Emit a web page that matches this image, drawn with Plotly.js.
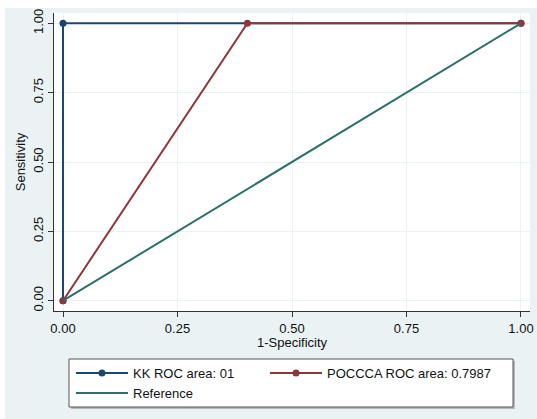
<!DOCTYPE html>
<html>
<head>
<meta charset="utf-8">
<script src="https://cdn.plot.ly/plotly-3.0.1.min.js"></script>
<style>
  html, body { margin: 0; padding: 0; background: #ffffff; }
  #chart { position: absolute; left: 5px; top: 8px; width: 532px; height: 411px; }
</style>
</head>
<body>
<div id="chart"></div>
<script>
// ---- data ----
const kkFpr = [0, 0, 1];
const kkTpr = [0, 1, 1];
const pocccaFpr = [0, 0.4026, 1];
const pocccaTpr = [0, 1, 1];
const refFpr = [0, 1];
const refTpr = [0, 1];
const tickVals = [0, 0.25, 0.5, 0.75, 1];
const tickLabels = ['0.00', '0.25', '0.50', '0.75', '1.00'];
const seriesNames = ['KK ROC area: 01', 'POCCCA ROC area: 0.7987', 'Reference'];
const xTitle = '1-Specificity';
const yTitle = 'Sensitivity';

const FONT = 'Arial, "Liberation Sans", Helvetica, sans-serif';
const navy = '#1a476f';
const maroon = '#90353b';
const teal = '#2d7068';
const bg = '#eaf2f3';

const traces = [
  { x: kkFpr, y: kkTpr, name: seriesNames[0], type: 'scatter', mode: 'lines+markers',
    line: { color: navy, width: 2 }, marker: { color: navy, size: 7 }, legend: 'legend' },
  { x: pocccaFpr, y: pocccaTpr, name: seriesNames[1], type: 'scatter', mode: 'lines+markers',
    line: { color: maroon, width: 2 }, marker: { color: maroon, size: 7 }, legend: 'legend2' },
  { x: refFpr, y: refTpr, name: seriesNames[2], type: 'scatter', mode: 'lines',
    line: { color: teal, width: 2 }, legend: 'legend' }
];

const axisCommon = {
  tickvals: tickVals, ticktext: tickLabels, tickmode: 'array',
  showgrid: true, gridcolor: bg, gridwidth: 1,
  zeroline: false, showline: true, linecolor: '#333333', linewidth: 1,
  ticks: 'outside', ticklen: 5, tickcolor: '#333333', tickwidth: 1,
  tickfont: { family: FONT, size: 13, color: '#111111' },
  automargin: false
};

const legendCommon = {
  orientation: 'v', xanchor: 'left', y: -0.158, yanchor: 'top',
  bgcolor: 'rgba(0,0,0,0)', borderwidth: 0, itemwidth: 52,
  font: { family: FONT, size: 13, color: '#111111' },
  traceorder: 'normal', itemclick: false, itemdoubleclick: false
};

const layout = {
  width: 532, height: 411,
  paper_bgcolor: bg, plot_bgcolor: '#ffffff',
  margin: { l: 49, r: 7, t: 5, b: 108 },
  font: { family: FONT, size: 13, color: '#111111' },
  xaxis: Object.assign({}, axisCommon, {
    range: [-0.0197, 1.0197]
  }),
  yaxis: Object.assign({}, axisCommon, {
    range: [-0.037, 1.037], tickangle: -90,
    title: { text: yTitle, font: { family: FONT, size: 13, color: '#111111' }, standoff: 2 }
  }),
  annotations: [
    { text: xTitle, xref: 'paper', yref: 'paper', x: 0.5, y: -0.106,
      xanchor: 'center', yanchor: 'middle', showarrow: false,
      font: { family: FONT, size: 13, color: '#111111' } }
  ],
  showlegend: true,
  legend: Object.assign({}, legendCommon, { x: 0.0357 }),
  legend2: Object.assign({}, legendCommon, { x: 0.4433 }),
  shapes: [
    { type: 'rect', xref: 'paper', yref: 'paper', layer: 'above',
      x0: 0.0357, x1: 0.9685, y0: -0.1678, y1: -0.3288,
      fillcolor: '#b5b9ba', line: { width: 0 } },
    { type: 'rect', xref: 'paper', yref: 'paper', layer: 'above',
      x0: 0.0315, x1: 0.9643, y0: -0.1611, y1: -0.3221,
      fillcolor: '#ffffff', line: { color: '#555555', width: 1 } }
  ]
};

Plotly.newPlot('chart', traces, layout, { displayModeBar: false, staticPlot: true });
</script>
</body>
</html>
